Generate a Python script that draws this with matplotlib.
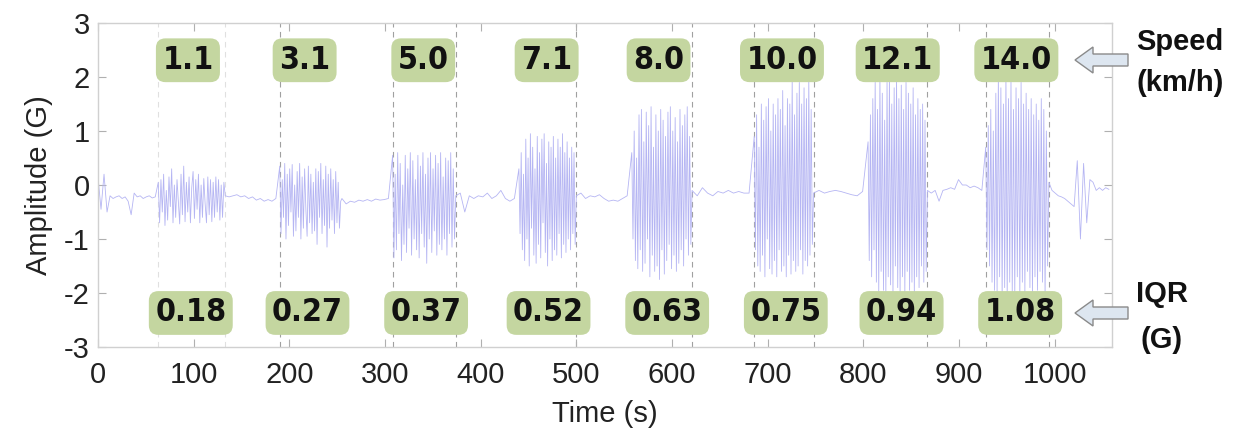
import numpy as np
import matplotlib
matplotlib.use("Agg")
import matplotlib.pyplot as plt
from matplotlib.patches import Polygon
from matplotlib import font_manager

# ---------------- data ----------------
seg_bounds = [0, 63, 133, 190, 255, 308, 374, 440, 500, 558, 621, 686, 748, 805, 867, 928, 994, 1060]
seg_values = [
    [0.15, -0.45, 0.2, -0.5, -0.2, -0.25, -0.22, -0.2, -0.25, -0.22, -0.3, -0.55, -0.15, -0.22, -0.2, -0.25, -0.22, -0.2, -0.24, -0.22],
    [0.05, -0.7, 0.1, -0.5, 0.2, -0.75, -0.1, -0.65, 0.15, -0.4, 0.3, -0.7, 0.0, -0.6, 0.1, -0.3, -0.72, 0.2, -0.55, 0.35, -0.68, 0.05, -0.5, 0.15, -0.7, -0.05, 0.25, -0.62, 0.1, -0.45, 0.2, -0.7, 0.0, -0.6, 0.12, -0.35, -0.7, 0.15, -0.55, 0.1, -0.68, 0.05, -0.6, 0.15, -0.5, 0.1, -0.65, 0.0, -0.6, 0.05],
    [-0.2, -0.22, -0.2, -0.18, -0.22, -0.2, -0.25, -0.22, -0.28, -0.25, -0.3, -0.27, -0.3, -0.25],
    [0.35, -0.9, 0.1, -0.6, 0.4, -1.0, 0.2, -0.75, 0.3, -0.5, 0.38, -0.95, 0.0, -0.85, 0.25, -0.6, 0.4, -1.0, 0.15, -0.8, 0.3, -0.45, -0.95, 0.35, -0.7, 0.2, -0.9, 0.05, -0.85, 0.3, -1.1, 0.25, -0.6, 0.4, -0.9, 0.1, -0.75, 0.35, -1.15, 0.2, -0.8, 0.3, -0.65, 0.1, -0.9, 0.25, -0.7, 0.05, -0.8, -0.3],
    [-0.25, -0.35, -0.3, -0.32, -0.28, -0.3, -0.27, -0.3, -0.26, -0.28, -0.27, -0.25],
    [0.55, -1.35, 0.2, -1.2, 0.6, -0.9, 0.4, -1.4, 0.0, -1.1, 0.55, -1.25, 0.3, -0.8, 0.6, -1.3, 0.45, -1.0, 0.1, -1.2, 0.55, -1.35, 0.35, -0.9, 0.6, -1.15, 0.2, -1.45, 0.5, -1.0, 0.6, -1.25, 0.3, -0.85, 0.55, -1.3, 0.4, -1.1, 0.6, -1.2, 0.15, -1.0, 0.5, -1.3, 0.45, -0.9, 0.6, -1.15, 0.3, -1.0],
    [-0.2, -0.15, -0.5, -0.2, -0.25, -0.2, -0.22, -0.15, -0.25, -0.2, -0.1, -0.25, -0.3, -0.25],
    [0.3, -0.9, 0.6, -1.2, 0.2, -1.4, 0.85, -1.0, 0.5, -1.5, 0.95, -0.8, 0.7, -1.3, 0.3, -1.45, 0.9, -1.1, 0.6, -1.35, 0.85, -0.7, 0.95, -1.25, 0.4, -1.5, 0.8, -1.0, 0.7, -1.4, 0.9, -1.2, 0.5, -1.3, 0.85, -0.9, 0.7, -1.35, 0.95, -1.1, 0.6, -1.25, 0.8, -1.0, 0.5, -1.2, 0.7, -0.9, 0.6, -1.1],
    [-0.2, -0.15, -0.25, -0.2, -0.22, -0.18, -0.25, -0.3, -0.28, -0.3, -0.25, -0.2],
    [0.6, -1.0, 1.0, -1.4, 0.5, -1.55, 1.3, -1.2, 1.4, -1.6, 0.8, -1.45, 1.35, -1.0, 1.1, -1.7, 1.45, -1.3, 0.7, -1.6, 1.3, -1.5, 1.0, -1.75, 1.4, -1.2, 1.2, -1.65, 0.9, -1.4, 1.35, -1.1, 1.45, -1.55, 1.0, -1.3, 1.25, -1.6, 0.8, -1.45, 1.4, -1.2, 1.1, -1.5, 1.3, -1.0, 1.45, -1.3, 0.9, -1.1],
    [-0.1, -0.2, -0.05, -0.15, -0.2, -0.12, -0.15, -0.1, -0.15, -0.12, -0.15, -0.15],
    [0.9, -1.2, 1.3, -1.5, 0.7, -1.6, 1.5, -1.3, 1.2, -1.7, 1.45, -1.0, 1.6, -1.55, 1.0, -1.65, 1.5, -1.4, 1.3, -1.7, 1.6, -1.2, 1.4, -1.6, 1.75, -1.5, 1.1, -1.7, 1.6, -1.3, 1.5, -1.65, 1.95, -1.4, 1.3, -1.6, 1.7, -1.5, 1.9, -1.2, 1.5, -1.65, 1.8, -1.4, 1.6, -1.5, 1.95, -1.3, 1.4, -1.1],
    [-0.15, -0.1, -0.15, -0.12, -0.1, -0.12, -0.15, -0.18, -0.2, -0.12],
    [0.8, -1.4, 1.3, -1.7, 1.6, -1.2, 1.9, -1.8, 1.4, -2.0, 2.0, -1.6, 1.7, -1.95, 1.2, -2.0, 1.9, -1.7, 2.0, -1.85, 1.5, -2.05, 1.8, -1.5, 2.0, -1.9, 1.6, -2.0, 1.85, -1.7, 1.4, -2.0, 1.9, -1.6, 1.7, -1.95, 1.5, -1.8, 1.8, -2.0, 1.3, -1.7, 1.6, -1.9, 1.4, -1.5, 1.5, -1.8, 1.2, -1.6],
    [-0.1, -0.15, -0.1, -0.3, -0.1, -0.08, -0.05, -0.08, 0.1, 0.0, 0.0, -0.05, -0.02, -0.05, -0.1],
    [0.7, -1.2, 1.1, -1.5, 1.4, -1.8, 1.0, -1.95, 1.7, -2.0, 2.0, -1.7, 1.8, -2.1, 1.5, -1.9, 2.0, -2.1, 1.6, -1.8, 1.95, -2.0, 1.4, -2.05, 1.8, -1.7, 1.6, -2.1, 1.9, -1.8, 1.5, -2.0, 1.7, -1.6, 1.4, -1.9, 1.6, -2.0, 1.3, -1.7, 1.5, -1.95, 1.2, -1.6, 1.6, -1.8, 1.4, -2.1, 1.0, -1.5],
    [0.05, -0.1, -0.15, -0.2, -0.22, -0.25, -0.3, -0.35, -0.4, 0.45, -1.0, 0.4, -0.7, 0.1, 0.05, -0.1, -0.05, -0.1, -0.05, -0.08],
]

boundary_strong = [190, 308, 374, 500, 621, 686, 748, 867, 928, 994]
boundary_faint = [63, 133]

speed_labels = ["1.1", "3.1", "5.0", "7.1", "8.0", "10.0", "12.1", "14.0"]
speed_x = [94, 216, 340, 469, 586, 715, 836, 960]
iqr_labels = ["0.18", "0.27", "0.37", "0.52", "0.63", "0.75", "0.94", "1.08"]
iqr_x = [97, 219, 343, 471, 595, 719, 840, 964]

# ---------------- fonts ----------------
names = {f.name for f in font_manager.fontManager.ttflist}
base_font = "Liberation Sans" if "Liberation Sans" in names else "DejaVu Sans"
plt.rcParams["font.family"] = [base_font, "DejaVu Sans"]
plt.rcParams["axes.unicode_minus"] = False

W, H = 1243, 440
fig = plt.figure(figsize=(W / 100, H / 100), dpi=100)
ax = fig.add_axes([98 / W, 1 - 347 / H, (1112 - 98) / W, (347 - 23) / H])

t_all, v_all = [], []
for i, vals in enumerate(seg_values):
    t0, t1 = seg_bounds[i], seg_bounds[i + 1]
    tt = np.linspace(t0, t1, len(vals), endpoint=False)
    t_all.extend(tt)
    v_all.extend(vals)
ax.plot(t_all, v_all, color="#b5b5f3", lw=0.6, zorder=2)

for b in boundary_strong:
    ax.axvline(b, color="#a0a0a0", lw=0.8, ls=(0, (5, 4)), zorder=1)
for b in boundary_faint:
    ax.axvline(b, color="#e0e0e0", lw=0.8, ls=(0, (5, 4)), zorder=1)

ax.set_xlim(0, 1060)
ax.set_ylim(-3, 3)
ax.set_xticks(range(0, 1001, 100))
ax.set_yticks(range(-3, 4))
ax.tick_params(direction="in", top=True, right=True, length=6, width=0.8,
               color="#b0b0b0", labelsize=21, labelcolor="#222222")
ax.tick_params(axis="x", pad=10)
ax.tick_params(axis="y", pad=6)
for s in ax.spines.values():
    s.set_color("#d0d0d0")
    s.set_linewidth(1.0)

ax.set_xlabel("Time (s)", fontsize=21, color="#222222", labelpad=8)
ax.set_ylabel("Amplitude (G)", fontsize=21, color="#222222", labelpad=8)

box_kw = dict(boxstyle="round,pad=0.2,rounding_size=0.3", fc="#c4d6a0", ec="none")
for lab, x in zip(speed_labels, speed_x):
    ax.text(x, 2.31, lab, ha="center", va="center", fontsize=23, fontweight="bold",
            family=["DejaVu Sans"], fontstretch="condensed",
            color="#111111", bbox=box_kw, zorder=5)
for lab, x in zip(iqr_labels, iqr_x):
    ax.text(x, -2.37, lab, ha="center", va="center", fontsize=23, fontweight="bold",
            family=["DejaVu Sans"], fontstretch="condensed",
            color="#111111", bbox=box_kw, zorder=5)

def arrow(y_px):
    tip, head_end, tail = 1075, 1093, 1128
    hh, sh = 13, 6
    pts = [(tip, y_px), (head_end, y_px - hh), (head_end, y_px - sh), (tail, y_px - sh),
           (tail, y_px + sh), (head_end, y_px + sh), (head_end, y_px + hh)]
    pts = [(x / W, 1 - y / H) for x, y in pts]
    fig.patches.append(Polygon(pts, closed=True, fc="#dde6f0", ec="#8a8a8a", lw=1.0,
                               transform=fig.transFigure, figure=fig))

arrow(60)
arrow(313)

side_kw = dict(ha="center", va="center", fontsize=21, fontweight="bold", color="#111111")
fig.text(1180 / W, 1 - 42 / H, "Speed", **side_kw)
fig.text(1180 / W, 1 - 83 / H, "(km/h)", **side_kw)
fig.text(1162 / W, 1 - 294 / H, "IQR", **side_kw)
fig.text(1162 / W, 1 - 340 / H, "(G)", **side_kw)

fig.savefig("out.png", dpi=100)
